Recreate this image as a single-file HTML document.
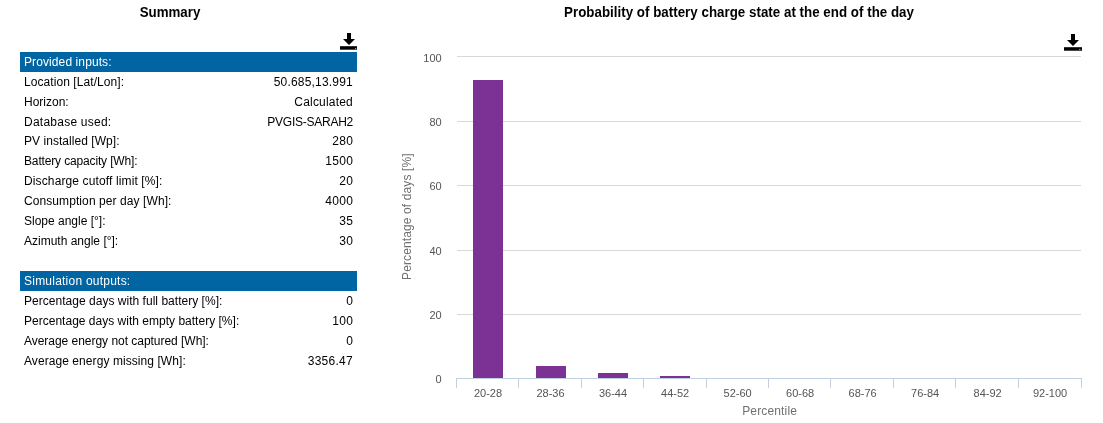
<!DOCTYPE html>
<html>
<head>
<meta charset="utf-8">
<title>Summary</title>
<style>
html,body{margin:0;padding:0;background:#fff;}
body{width:1103px;height:423px;position:relative;overflow:hidden;font-family:"Liberation Sans",Arial,sans-serif;font-size:12px;color:#000;}
.title{transform:scaleY(1.03);transform-origin:50% 75%;position:absolute;font-weight:bold;font-size:13.33px;line-height:16px;text-align:center;color:#000;white-space:nowrap;}
#t1{left:0;width:340px;top:5px;}
#t2{left:380.5px;width:717px;top:5px;letter-spacing:0.02px;}
.icon{position:absolute;}
table{position:absolute;left:20px;width:337px;border-collapse:collapse;border-spacing:0;table-layout:fixed;}
#tb1{top:52px;}
#tb2{top:271px;}
th{background:#0065a2;color:#fff;font-weight:normal;text-align:left;height:20px;padding:0 0 0 4px;line-height:20px;font-size:12px;}
td{height:20px;line-height:20px;padding:0 0 0 4px;font-size:12px;white-space:nowrap;}
td.v{text-align:right;padding:0 4px 0 0;}
tr.s td{height:19px;line-height:19px;}
td.n{letter-spacing:0.33px;padding-right:3.7px;}
svg text{font-family:"Liberation Sans",Arial,sans-serif;}
</style>
</head>
<body>
<div class="title" id="t1">Summary</div>
<div class="title" id="t2">Probability of battery charge state at the end of the day</div>

<svg class="icon" style="left:340px;top:33px" width="17" height="17" viewBox="0 0 17 17"><path d="M7 0h4v6h4l-6 6-6-6h4z" fill="#000"/><rect x="0" y="13.2" width="17" height="3.5" fill="#000"/><rect x="15.2" y="14.9" width="1" height="1" fill="#fff" opacity="0.85"/></svg>
<svg class="icon" style="left:1064px;top:34px" width="18" height="17" viewBox="0 0 18 17"><path d="M7 0h4v6h4l-6 6-6-6h4z" fill="#000"/><rect x="0" y="13.2" width="18" height="3.5" fill="#000"/><rect x="15.3" y="14.9" width="1" height="1" fill="#fff" opacity="0.85"/></svg>

<table id="tb1">
<tr><th colspan="2" style="letter-spacing:0.1px">Provided inputs:</th></tr>
<tr><td style="letter-spacing:0.07px">Location [Lat/Lon]:</td><td class="v" style="letter-spacing:0.2px">50.685,13.991</td></tr>
<tr><td>Horizon:</td><td class="v" style="letter-spacing:0.2px">Calculated</td></tr>
<tr><td style="letter-spacing:0.24px">Database used:</td><td class="v" style="letter-spacing:-0.25px">PVGIS-SARAH2</td></tr>
<tr class="s"><td style="letter-spacing:0.05px">PV installed [Wp]:</td><td class="v n">280</td></tr>
<tr><td style="letter-spacing:-0.15px">Battery capacity [Wh]:</td><td class="v n">1500</td></tr>
<tr><td style="letter-spacing:0.125px">Discharge cutoff limit [%]:</td><td class="v n">20</td></tr>
<tr><td style="letter-spacing:0.085px">Consumption per day [Wh]:</td><td class="v n">4000</td></tr>
<tr><td>Slope angle [°]:</td><td class="v n">35</td></tr>
<tr><td>Azimuth angle [°]:</td><td class="v n">30</td></tr>
</table>

<table id="tb2">
<tr><th colspan="2" style="letter-spacing:0.23px">Simulation outputs:</th></tr>
<tr><td style="letter-spacing:0.025px">Percentage days with full battery [%]:</td><td class="v n">0</td></tr>
<tr><td style="letter-spacing:0.012px">Percentage days with empty battery [%]:</td><td class="v n">100</td></tr>
<tr><td style="letter-spacing:-0.03px">Average energy not captured [Wh]:</td><td class="v n">0</td></tr>
<tr><td style="letter-spacing:0.07px">Average energy missing [Wh]:</td><td class="v" style="letter-spacing:0.27px">3356.47</td></tr>
</table>

<svg style="position:absolute;left:0;top:0" width="1103" height="423" viewBox="0 0 1103 423">
<g stroke="#D8D8D8" stroke-width="1" shape-rendering="crispEdges">
<path d="M457 56.5H1081M457 121.5H1081M457 185.5H1081M457 250.5H1081M457 314.5H1081"/>
</g>
<g fill="#7b3294" shape-rendering="crispEdges">
<rect x="473" y="80" width="30" height="298"/>
<rect x="536" y="366" width="30" height="12"/>
<rect x="598" y="373" width="30" height="5"/>
<rect x="660" y="376" width="30" height="2"/>
</g>
<g stroke="#C0D0E0" stroke-width="1" shape-rendering="crispEdges" fill="none">
<path d="M456 378.5H1082"/>
<path d="M456.5 378V388M518.5 378V388M581.5 378V388M643.5 378V388M706.5 378V388M768.5 378V388M830.5 378V388M893.5 378V388M955.5 378V388M1018.5 378V388M1081.5 378V388"/>
</g>
<g font-size="11" fill="#555" text-anchor="end">
<text x="441.7" y="62">100</text>
<text x="441.7" y="126">80</text>
<text x="441.7" y="190">60</text>
<text x="441.7" y="255">40</text>
<text x="441.7" y="319">20</text>
<text x="441.7" y="383">0</text>
</g>
<g font-size="11" fill="#555" text-anchor="middle">
<text x="488" y="397">20-28</text>
<text x="550.5" y="397">28-36</text>
<text x="613" y="397">36-44</text>
<text x="675.1" y="397">44-52</text>
<text x="737.6" y="397">52-60</text>
<text x="800.1" y="397">60-68</text>
<text x="862.6" y="397">68-76</text>
<text x="925.1" y="397">76-84</text>
<text x="987.6" y="397">84-92</text>
<text x="1050.1" y="397">92-100</text>
</g>
<text x="769.6" y="415" font-size="12" fill="#707070" text-anchor="middle" letter-spacing="0.15">Percentile</text>
<text transform="translate(411,216.6) rotate(-90)" font-size="12" fill="#707070" text-anchor="middle" letter-spacing="0.12">Percentage of days [%]</text>
</svg>
</body>
</html>
